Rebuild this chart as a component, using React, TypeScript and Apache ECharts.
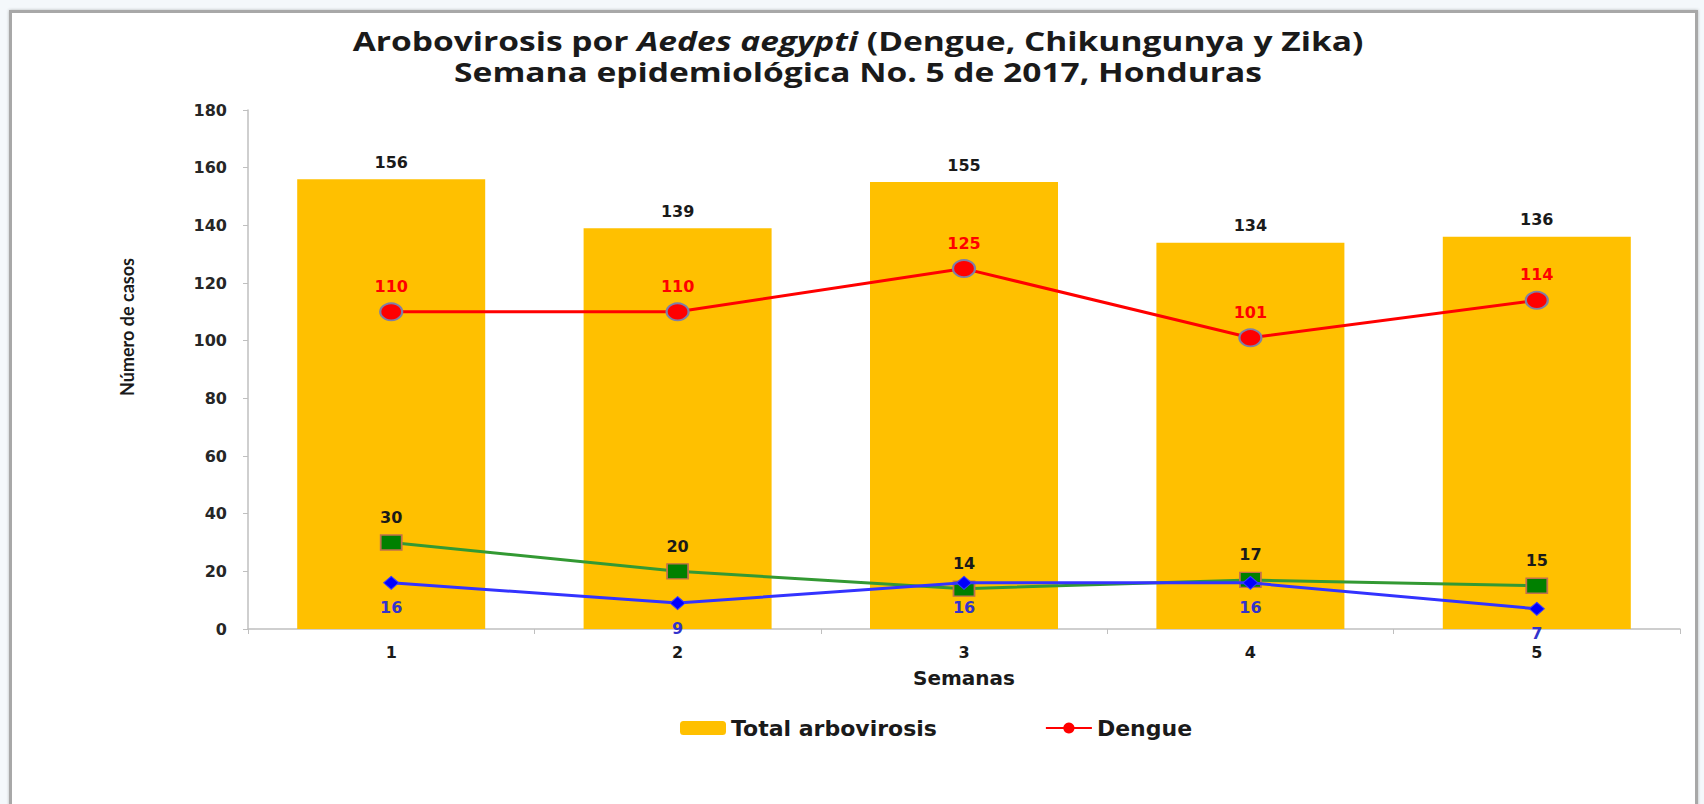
import React, { useEffect, useRef } from "react";
import * as echarts from "echarts";

const semanas = ["1", "2", "3", "4", "5"];
const totalArbovirosis = [156, 139, 155, 134, 136];
const dengue = [110, 110, 125, 101, 114];
const chikungunya = [30, 20, 14, 17, 15];
const zika = [16, 9, 16, 16, 7];
const yTicks = { min: 0, max: 180, interval: 20 };
const titleLine1 = "Arobovirosis por {i|Aedes aegypti} (Dengue, Chikungunya y Zika)";
const titleLine2 = "Semana epidemiológica No. 5 de 2017, Honduras";
const yName = "Número de casos";

const LABEL_FONT = "DejaVu Sans";

export default function App() {
  const ref = useRef<HTMLDivElement>(null);
  useEffect(() => {
    if (!ref.current) return;
    const chart = echarts.init(ref.current, null, { renderer: "svg" });
    const titleStyle = {
      fontFamily: "Open Sans",
      fontWeight: "bold",
      fontSize: 26,
      fill: "#1a1a1a",
      align: "center",
      verticalAlign: "middle",
    };
    chart.setOption({
      animation: false,
      backgroundColor: "#f4f8fb",
      graphic: [
        {
          type: "rect",
          z: -10,
          silent: true,
          shape: { x: 10.5, y: 11.5, width: 1686, height: 820 },
          style: { fill: "#ffffff", stroke: "#a8a8a8", lineWidth: 3, shadowBlur: 3, shadowColor: "rgba(0,0,0,0.25)" },
        },
        {
          type: "text",
          x: 858,
          y: 41,
          scaleX: 1.29,
          silent: true,
          style: {
            ...titleStyle,
            text: titleLine1,
            rich: {
              i: { fontFamily: "Open Sans", fontWeight: "bold", fontStyle: "italic", fontSize: 26, fill: "#1a1a1a" },
            },
          },
        },
        {
          type: "text",
          x: 858,
          y: 72,
          scaleX: 1.29,
          silent: true,
          style: { ...titleStyle, text: titleLine2 },
        },
        {
          type: "text",
          x: 127,
          y: 327,
          rotation: Math.PI / 2,
          silent: true,
          style: {
            text: yName,
            fontFamily: "Lato",
            fontWeight: "bold",
            fontSize: 18,
            fill: "#1a1a1a",
            align: "center",
            verticalAlign: "middle",
          },
        },
      ],
      legend: {
        left: 675,
        top: 712,
        itemWidth: 46,
        itemHeight: 14,
        itemGap: 108,
        data: ["Total arbovirosis", { name: "Dengue", itemStyle: { borderWidth: 0 } }],
        textStyle: { fontFamily: LABEL_FONT, fontWeight: "bold", fontSize: 22, color: "#1a1a1a" },
      },
      grid: { left: 248, right: 24, top: 110, bottom: 175, containLabel: false },
      xAxis: {
        type: "category",
        data: semanas,
        boundaryGap: true,
        name: "Semanas",
        nameLocation: "middle",
        nameGap: 39,
        nameTextStyle: { fontFamily: LABEL_FONT, fontWeight: "bold", fontSize: 20, color: "#1a1a1a" },
        axisLine: { lineStyle: { color: "#bfbfbf", width: 1.5 } },
        axisTick: { show: true, alignWithLabel: false, length: 5, lineStyle: { color: "#bfbfbf" } },
        axisLabel: { margin: 15, fontFamily: LABEL_FONT, fontWeight: "bold", fontSize: 16, color: "#1a1a1a" },
      },
      yAxis: {
        type: "value",
        min: yTicks.min,
        max: yTicks.max,
        interval: yTicks.interval,
        axisLine: { show: true, lineStyle: { color: "#bfbfbf", width: 1.5 } },
        axisTick: { show: true, length: 5, lineStyle: { color: "#bfbfbf" } },
        splitLine: { show: false },
        axisLabel: { margin: 21, fontFamily: LABEL_FONT, fontWeight: "bold", fontSize: 16, color: "#262626" },
      },
      series: [
        {
          name: "Total arbovirosis",
          type: "bar",
          data: totalArbovirosis,
          barWidth: 188,
          itemStyle: { color: "#ffc000" },
          label: { show: true, position: "top", distance: 9, fontFamily: LABEL_FONT, fontWeight: "bold", fontSize: 16, color: "#1a1a1a" },
          z: 1,
        },
        {
          name: "Dengue",
          type: "line",
          data: dengue,
          symbol: "circle",
          symbolSize: [22, 17],
          lineStyle: { color: "#ff0000", width: 3 },
          itemStyle: { color: "#ff0000", borderColor: "#7f7fa6", borderWidth: 2 },
          label: { show: true, position: "top", distance: 8, fontFamily: LABEL_FONT, fontWeight: "bold", fontSize: 16, color: "#ff0000" },
          z: 3,
        },
        {
          name: "Chikungunya",
          type: "line",
          data: chikungunya,
          symbol: "rect",
          symbolSize: [21, 15],
          lineStyle: { color: "#339933", width: 3 },
          itemStyle: { color: "#008000", borderColor: "#c0704d", borderWidth: 1.5 },
          label: { show: true, position: "top", distance: 9, fontFamily: LABEL_FONT, fontWeight: "bold", fontSize: 16, color: "#1a1a1a" },
          z: 4,
        },
        {
          name: "Zika",
          type: "line",
          data: zika,
          symbol: "diamond",
          symbolSize: [15, 13],
          lineStyle: { color: "#3333ff", width: 3 },
          itemStyle: { color: "#0000ff", borderColor: "#3b3bff", borderWidth: 1 },
          label: { show: true, position: "bottom", distance: 10, fontFamily: LABEL_FONT, fontWeight: "bold", fontSize: 16, color: "#3333cc" },
          z: 5,
        },
      ],
    });
    return () => chart.dispose();
  }, []);
  return <div ref={ref} style={{ position: "fixed", left: 0, top: 0, width: 1704, height: 804 }} />;
}
